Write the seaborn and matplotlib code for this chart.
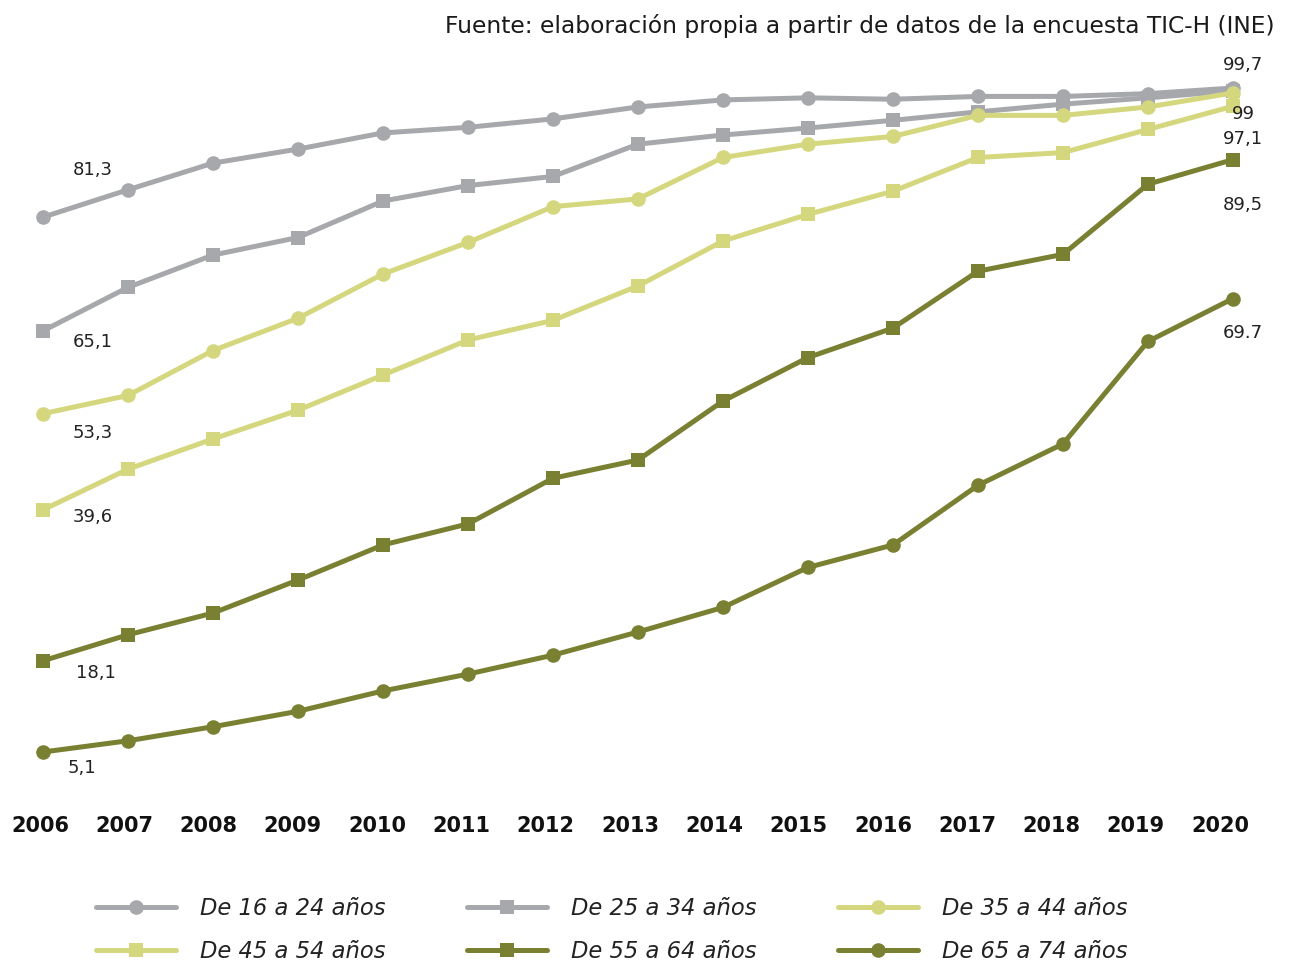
import matplotlib
matplotlib.use("Agg")
import matplotlib.pyplot as plt
from matplotlib.lines import Line2D
from matplotlib.transforms import ScaledTranslation
import pandas as pd
import seaborn as sns

# Porcentaje de usuarios de Internet por grupo de edad (encuesta TIC-H, INE)
years = list(range(2006, 2021))
grupos = ["De 16 a 24 años", "De 25 a 34 años", "De 35 a 44 años",
          "De 45 a 54 años", "De 55 a 64 años", "De 65 a 74 años"]
edad_16_24 = [81.3, 85.2, 89.0, 91.0, 93.3, 94.1, 95.3, 97.0, 98.0, 98.3, 98.1, 98.5, 98.5, 98.9, 99.7]
edad_25_34 = [65.1, 71.3, 75.9, 78.4, 83.6, 85.8, 87.1, 91.7, 93.0, 94.0, 95.1, 96.3, 97.4, 98.3, 99.3]
edad_35_44 = [53.3, 55.9, 62.3, 66.9, 73.2, 77.7, 82.8, 83.9, 89.8, 91.7, 92.8, 95.8, 95.8, 97.0, 99.0]
edad_45_54 = [39.6, 45.4, 49.7, 53.8, 58.8, 63.8, 66.6, 71.5, 77.9, 81.7, 85.0, 89.8, 90.5, 93.8, 97.1]
edad_55_64 = [18.1, 21.8, 24.9, 29.6, 34.6, 37.6, 44.1, 46.7, 55.1, 61.3, 65.5, 73.6, 76.0, 86.0, 89.5]
edad_65_74 = [5.1, 6.7, 8.7, 10.9, 13.8, 16.2, 18.9, 22.2, 25.7, 31.4, 34.6, 43.1, 49.0, 63.6, 69.7]
series = [edad_16_24, edad_25_34, edad_35_44, edad_45_54, edad_55_64, edad_65_74]

# Etiquetas de valor: (grupo, año, texto, desplazamiento en píxeles)
etiquetas = [
    (0, 2006, "81,3", (50, 47)),
    (1, 2006, "65,1", (50, -11)),
    (2, 2006, "53,3", (50, -19)),
    (3, 2006, "39,6", (50, -7)),
    (4, 2006, "18,1", (53, -12)),
    (5, 2006, "5,1", (39, -16)),
    (0, 2020, "99,7", (10, 23)),
    (2, 2020, "99", (10, -21)),
    (3, 2020, "97,1", (10, -33)),
    (4, 2020, "89,5", (10, -45)),
    (5, 2020, "69.7", (10, -34)),
]

GRIS = "#a7a8ac"
VERDE_CLARO = "#d4d77e"
OLIVA = "#7a8032"
colores = dict(zip(grupos, [GRIS, GRIS, VERDE_CLARO, VERDE_CLARO, OLIVA, OLIVA]))
marcadores = dict(zip(grupos, ["o", "s", "o", "s", "s", "o"]))

df = pd.DataFrame({
    "año": years * len(grupos),
    "grupo": [g for g in grupos for _ in years],
    "valor": [v for s in series for v in s],
})

sns.set_style("white")
plt.rcParams["font.family"] = ["DejaVu Sans"]

W, H = 1290, 967
fig = plt.figure(figsize=(W / 100, H / 100), dpi=100)
ax = fig.add_axes([43 / W, 1 - 787.8 / H, 1190 / W, 701.9 / H])

sns.lineplot(data=df, x="año", y="valor", hue="grupo", style="grupo",
             hue_order=grupos, style_order=grupos, palette=colores,
             markers=marcadores, dashes=False, linewidth=3.6, markersize=10.5,
             markeredgewidth=0, legend=False, ax=ax, clip_on=False)

ax.set_xlim(2006, 2020)
ax.set_ylim(0, 100)
ax.set_xlabel("")
ax.set_ylabel("")
ax.set_yticks([])
ax.set_xticks(years)
ax.set_xticklabels([str(y) for y in years], fontsize=15, fontweight="bold", color="#111111")
ax.tick_params(axis="x", length=0, pad=20.5)
# los rótulos de año quedan algo más juntos que los puntos
for i, lbl in enumerate(ax.get_xticklabels()):
    dx = (-3 - 0.7 * i) / 100
    lbl.set_transform(lbl.get_transform() + ScaledTranslation(dx, 0, fig.dpi_scale_trans))
for sp in ax.spines.values():
    sp.set_visible(False)

for gi, yr, txt, (dx, dy) in etiquetas:
    val = series[gi][years.index(yr)]
    ax.annotate(txt, xy=(yr, val), xytext=(dx, dy), textcoords="offset pixels",
                ha="center", va="center", fontsize=13, color="#222222",
                annotation_clip=False)

fig.text(1275 / W, 1 - 26 / H,
         "Fuente: elaboración propia a partir de datos de la encuesta TIC-H (INE)",
         ha="right", va="center", fontsize=16.8, color="#1a1a1a")

handles = [Line2D([], [], color=colores[g], marker=marcadores[g], linewidth=3.6,
                  markersize=10.5, markeredgewidth=0) for g in grupos]
orden = [0, 3, 1, 4, 2, 5]
fig.legend([handles[i] for i in orden], [grupos[i] for i in orden], ncol=3,
           loc="upper left", bbox_to_anchor=(96 / W, 1 - 897 / H), frameon=False,
           prop={"style": "italic", "size": 16.3}, handlelength=3.54, handletextpad=1.06,
           columnspacing=3.6, labelspacing=0.9, borderpad=0, borderaxespad=0,
           labelcolor="#222222")

fig.savefig("out.png", dpi=100)
